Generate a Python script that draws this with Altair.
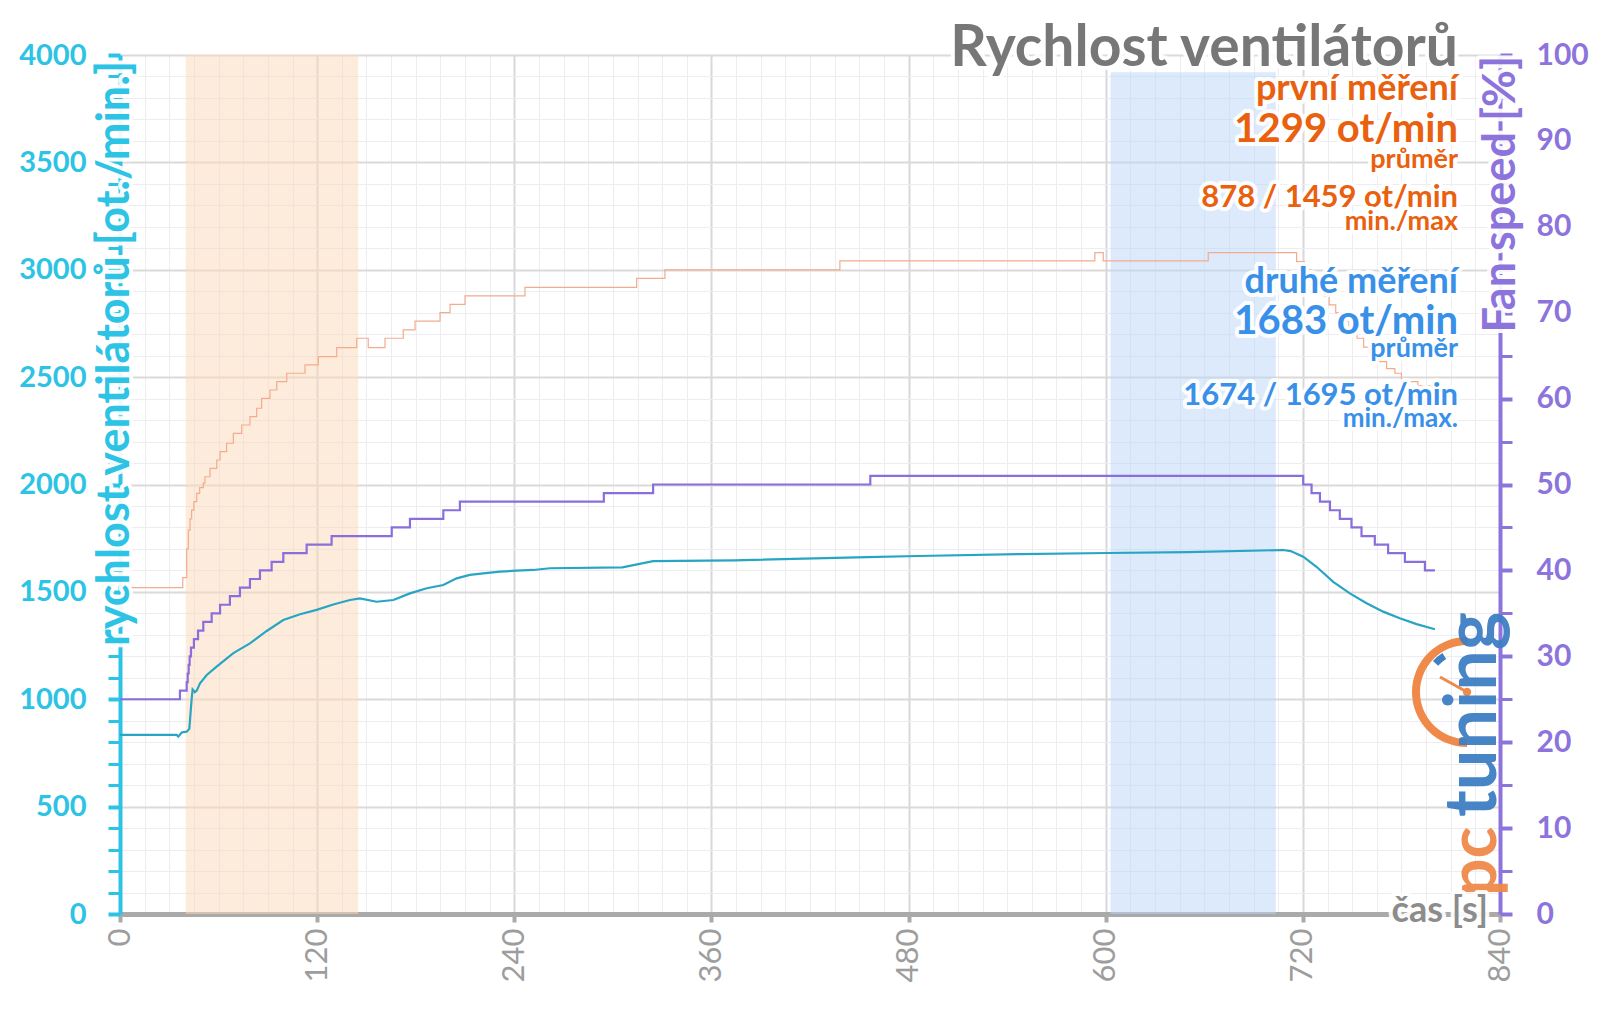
import altair as alt
import pandas as pd

# ---------------- data ----------------
band_start = [40, 603]
band_end = [145, 703.5]
band_top = [4000, 3920]
band_color = ["#fbd9b8", "#b9d6fa"]

orange_t = [0, 38.2, 40.6, 41.6, 42.6, 43.6, 45.0, 46.7, 48.5, 50.7, 51.7, 54.8, 58.9, 60.9, 64.9,
            69.0, 74.1, 79.1, 83.2, 86.2, 91.3, 95.4, 101.5, 112.6, 120.7, 131.9, 144.1, 151.1,
            161.3, 172.4, 179.6, 194.8, 200.9, 210.0, 246.5, 314.5, 331.7, 438.2, 593.4, 598.5,
            662.4, 716.2, 721, 725, 729, 733, 736, 740, 744, 748, 753, 757, 761, 766, 771, 776,
            780, 790, 800.4]
orange_rpm = [1520, 1566, 1700, 1788, 1840, 1881, 1920, 1959, 1985, 2006, 2036, 2075, 2114, 2153,
              2192, 2238, 2277, 2316, 2355, 2401, 2440, 2479, 2518, 2557, 2595, 2637, 2681, 2637,
              2681, 2720, 2761, 2800, 2839, 2878, 2918, 2960, 2999, 3041, 3080, 3041, 3080, 3038,
              3000, 2960, 2918, 2878, 2836, 2800, 2761, 2720, 2681, 2640, 2600, 2572, 2540, 2518,
              2479, 2460, 2440]

purple_t = [0, 36.5, 40.6, 41.2, 41.8, 42.4, 43.2, 45.0, 47.5, 50.7, 55.8, 60.9, 66.9, 73.0, 79.1,
            85.2, 92.3, 99.4, 113.6, 128.8, 165.4, 176.5, 196.8, 206.9, 294.5, 324.5, 456.7,
            720.2, 725.3, 730.4, 736.5, 742.5, 749.6, 755.7, 763.8, 771.9, 782.1, 794.3, 800.4]
purple_pct = [25, 26, 27, 28, 29, 30, 31, 32, 33, 34, 35, 36, 37, 38, 39, 40, 41, 42, 43, 44, 45,
              46, 47, 48, 49, 50, 51, 50, 49, 48, 47, 46, 45, 44, 43, 42, 41, 40, 40]

cyan_t = [0, 34.5, 35.5, 37.5, 40.6, 42.2, 43.6, 44.2, 45.6, 46.7, 48.7, 52.8, 58.8, 69.0, 79.1,
          89.3, 99.4, 109.6, 119.7, 129.8, 140.0, 146.0, 156.2, 166.4, 176.5, 186.7, 196.8, 204.9,
          213.0, 221.1, 231.3, 241.4, 251.5, 261.7, 305.8, 324.5, 374.0, 454.8, 485.8, 548.0,
          600.8, 650.0, 708.0, 712.6, 720.2, 728.3, 738.5, 748.6, 758.8, 768.9, 779.0, 789.2,
          800.4]
cyan_rpm = [834, 834, 826, 845, 849, 862, 1000, 1046, 1033, 1040, 1074, 1113, 1152, 1215, 1260,
            1318, 1369, 1396, 1416, 1441, 1462, 1470, 1454, 1462, 1493, 1517, 1532, 1563, 1579,
            1586, 1594, 1599, 1602, 1610, 1614, 1643, 1647, 1662, 1667, 1676, 1681, 1685, 1695,
            1690, 1664, 1617, 1547, 1493, 1447, 1408, 1377, 1350, 1326]

x_ticks = list(range(0, 841, 15))
y_ticks = list(range(0, 4001, 100))
pct_ticks = list(range(0, 101, 5))

title_text = "Rychlost ventilátorů"
info_lines = [
    ("první měření", 36, "o", 45),
    ("1299 ot/min", 40, "o", 87),
    ("průměr", 27, "o", 113),
    ("878 / 1459 ot/min", 31, "o", 152),
    ("min./max", 27, "o", 175),
    ("druhé měření", 36, "b", 238),
    ("1683 ot/min", 40, "b", 279),
    ("průměr", 27, "b", 302),
    ("1674 / 1695 ot/min", 31, "b", 350),
    ("min./max.", 26, "b", 372),
]

# ---------------- style ----------------
FONT = "Lato"
CYAN = "#2cc3e4"
PURPLE = "#8c74dc"
GRAY = "#aaaaaa"
ORANGE_TXT = "#e9600e"
BLUE_TXT = "#3990e8"

W, H = 1380, 859

bands = pd.DataFrame({"start": band_start, "end": band_end, "bottom": [0, 0],
                      "top": band_top, "color": band_color})
orange = pd.DataFrame({"t": orange_t, "v": orange_rpm})
purple = pd.DataFrame({"t": purple_t, "v": purple_pct})
cyan = pd.DataFrame({"t": cyan_t, "v": cyan_rpm})
dummy = pd.DataFrame({"a": [0]})

x_axis = alt.Axis(
    values=x_ticks, format="d",
    labelExpr="datum.value % 120 === 0 ? datum.label : ''",
    labelAngle=270, labelFont=FONT, labelFontSize=31, labelColor="#9d9d9d",
    labelPadding=6, labelOverlap=False, labelFlush=False,
    domainColor=GRAY, domainWidth=5,
    tickColor=GRAY, tickWidth=4, tickSize=8,
    tickOpacity={"condition": {"test": "datum.value % 120 === 0", "value": 1}, "value": 0},
    grid=True,
    gridColor={"condition": {"test": "datum.value % 120 === 0", "value": "#d8d8dc"}, "value": "#ededf1"},
    gridWidth={"condition": {"test": "datum.value % 120 === 0", "value": 2}, "value": 1},
    title=None,
)
y_axis = alt.Axis(
    values=y_ticks, format="d",
    labelExpr="datum.value % 500 === 0 ? datum.label : ''",
    labelFont=FONT, labelFontSize=29, labelFontWeight="bold", labelColor=CYAN,
    labelPadding=22, labelOverlap=False,
    domainColor=CYAN, domainWidth=4,
    tickColor=CYAN, tickSize=12,
    tickWidth={"condition": {"test": "datum.value % 500 === 0", "value": 4}, "value": 3},
    grid=True,
    gridColor={"condition": {"test": "datum.value % 500 === 0", "value": "#dcd9d9"}, "value": "#ededf1"},
    gridWidth={"condition": {"test": "datum.value % 500 === 0", "value": 2}, "value": 1},
    title=None,
)
pct_axis = alt.Axis(
    orient="right", values=pct_ticks, format="d",
    labelExpr="datum.value % 10 === 0 ? datum.label : ''",
    labelFont=FONT, labelFontSize=30, labelFontWeight="bold", labelColor=PURPLE,
    labelPadding=24, labelOverlap=False,
    domainColor=PURPLE, domainWidth=4,
    tickColor=PURPLE, tickSize=12,
    tickWidth={"condition": {"test": "datum.value % 10 === 0", "value": 4}, "value": 3},
    grid=False, title=None,
)

xs = alt.Scale(domain=[0, 840], nice=False, zero=False)
ys = alt.Scale(domain=[0, 4000], nice=False)
ps = alt.Scale(domain=[0, 100], nice=False)

X = alt.X("t:Q", scale=xs, axis=x_axis)
Y = alt.Y("v:Q", scale=ys, axis=y_axis)

band_layer = alt.Chart(bands).mark_rect(opacity=0.5).encode(
    x=alt.X("start:Q", scale=xs, axis=x_axis), x2="end:Q",
    y=alt.Y("bottom:Q", scale=ys, axis=y_axis), y2="top:Q",
    color=alt.Color("color:N", scale=None),
)
orange_layer = alt.Chart(orange).mark_line(color="#f3ab8e", strokeWidth=1.2,
                                           interpolate="step-after").encode(x=X, y=Y)
cyan_layer = alt.Chart(cyan).mark_line(color="#28a5c2", strokeWidth=2.2).encode(x=X, y=Y)
purple_layer = alt.Chart(purple).mark_line(color="#8a6fdc", strokeWidth=2.2,
                                           interpolate="step-after").encode(
    x=X, y=alt.Y("v:Q", scale=ps, axis=pct_axis))


def txt(s, x, y, size, color, align="right", angle=0, weight="bold", halo=True, opacity=1):
    base = dict(text=s, align=align, baseline="alphabetic", angle=angle, font=FONT,
                fontSize=size, fontWeight=weight)
    out = []
    if halo:
        out.append(alt.Chart(dummy).mark_text(**base, color="white", stroke="white",
                                              strokeWidth=8, strokeJoin="round",
                                              opacity=0.92).encode(x=alt.value(x), y=alt.value(y)))
    out.append(alt.Chart(dummy).mark_text(**base, color=color, opacity=opacity).encode(
        x=alt.value(x), y=alt.value(y)))
    return out


texts = []
texts += txt(title_text, 1338, 11, 57, "#777777")
for s, size, c, yy in info_lines:
    texts += txt(s, 1338, yy, size, ORANGE_TXT if c == "o" else BLUE_TXT)
texts += txt("rychlost ventilátorů [ot./min.]", 9, 6, 45, CYAN, align="right", angle=270)
texts += txt("Fan speed [%]", 1395, 1, 45, PURPLE, align="right", angle=270)
texts += txt("čas [s]", 1368, 867, 36, "#8c8c8c")

# logo
logo = [
    alt.Chart(dummy).mark_arc(radius=55, radius2=47, theta=3.1416, theta2=6.2832,
                              color="#f08a4b").encode(x=alt.value(1347), y=alt.value(637)),
    alt.Chart(dummy).mark_arc(radius=46, radius2=39, theta=5.45, theta2=5.72,
                              color="#3f7fc4").encode(x=alt.value(1347), y=alt.value(637)),
    alt.Chart(dummy).mark_rule(color="#f08a4b", strokeWidth=3).encode(
        x=alt.value(1320), y=alt.value(622), x2=alt.value(1347), y2=alt.value(637)),
    alt.Chart(dummy).mark_point(filled=True, size=70, color="#f08a4b", opacity=1).encode(
        x=alt.value(1347), y=alt.value(637)),
]
logo += txt("pc", 1376, 841, 66, "#f08a4b", align="left", angle=270, halo=False, opacity=0.95)
logo += txt("tuning", 1376, 762, 72, "#3f7fc4", align="left", angle=270, halo=False, opacity=0.95)

inner = alt.layer(band_layer, orange_layer, cyan_layer, *logo, *texts)
chart = alt.layer(inner, purple_layer).resolve_scale(y="independent").properties(
    width=W, height=H,
    padding={"left": 112, "top": 47, "right": 92, "bottom": 80},
    autosize=alt.AutoSizeParams(type="none"),
    background="white",
).configure_view(stroke=None)

chart.save("out.html", embed_options={"renderer": "svg", "actions": False})
